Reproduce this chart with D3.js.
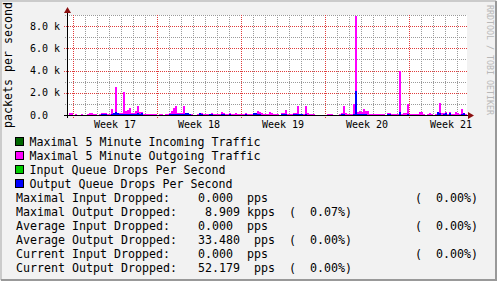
<!DOCTYPE html>
<html>
<head>
<meta charset="utf-8">
<script src="https://cdn.jsdelivr.net/npm/d3@7"></script>
<style>
  html, body { margin: 0; padding: 0; background: #f2f2f2; }
  svg { display: block; font-family: 'DejaVu Sans Mono', monospace; }
</style>
</head>
<body>
<script>
// 4 hour samples, first one starts 12 h before week 17
const START_HOUR = -12
const SAMPLE_HOURS = 4

const outgoingMax = [
  0, 180, 180, 0, 90, 0, 0, 90, 0, 0,
  90, 180, 220, 90, 90, 0, 90, 180, 180, 180,
  130, 130, 540, 180, 2550, 180, 180, 180, 2100, 370,
  450, 630, 180, 180, 320, 770, 270, 270, 90, 90,
  130, 130, 130, 90, 90, 0, 90, 90, 0, 90,
  90, 180, 360, 630, 810, 180, 180, 180, 810, 180,
  180, 130, 90, 0, 0, 90, 180, 180, 90, 90,
  90, 130, 180, 90, 90, 90, 90, 270, 180, 130,
  90, 180, 130, 90, 220, 130, 90, 90, 90, 180,
  130, 130, 90, 130, 180, 320, 270, 180, 90, 90,
  130, 270, 220, 90, 90, 90, 0, 180, 180, 450,
  90, 90, 90, 180, 180, 830, 130, 130, 130, 830,
  180, 90, 90, 90, 0, 0, 0, 0, 0, 0,
  90, 90, 90, 0, 0, 0, 90, 180, 830, 180,
  90, 90, 130, 1000, 8909, 270, 400, 270, 540, 400,
  320, 130, 130, 90, 90, 90, 90, 90, 90, 0,
  180, 180, 90, 90, 90, 90, 4000, 90, 180, 180,
  1000, 90, 90, 90, 90, 90, 270, 270, 90, 0,
  130, 180, 130, 0, 90, 270, 1100, 180, 180, 270,
  90, 270, 130, 130, 270, 180, 90, 550, 180, 90
]

const outputDrops = [
  0, 0, 0, 0, 0, 0, 0, 0, 0, 0,
  0, 0, 0, 0, 0, 0, 0, 130, 130, 130,
  0, 0, 90, 180, 270, 180, 130, 130, 90, 130,
  90, 130, 130, 90, 130, 180, 130, 180, 0, 0,
  0, 0, 0, 0, 0, 0, 0, 0, 0, 0,
  0, 90, 90, 130, 130, 130, 130, 90, 90, 180,
  180, 90, 0, 0, 0, 0, 180, 130, 0, 0,
  0, 90, 130, 0, 0, 0, 0, 130, 90, 0,
  0, 90, 0, 0, 0, 0, 0, 0, 0, 130,
  0, 0, 0, 180, 180, 130, 90, 0, 0, 0,
  0, 0, 0, 0, 0, 0, 0, 130, 130, 90,
  0, 0, 0, 130, 130, 90, 130, 90, 0, 90,
  0, 0, 0, 0, 0, 0, 0, 0, 0, 0,
  0, 0, 0, 0, 0, 0, 0, 130, 90, 0,
  0, 0, 0, 90, 2150, 130, 130, 90, 130, 90,
  0, 0, 0, 0, 0, 0, 0, 0, 0, 0,
  90, 90, 0, 0, 0, 0, 270, 0, 0, 0,
  90, 0, 0, 0, 0, 0, 0, 0, 0, 0,
  0, 0, 0, 0, 0, 270, 180, 0, 90, 180,
  0, 180, 0, 0, 0, 0, 0, 90, 180, 0
]

const weekLabels = ['Week 17', 'Week 18', 'Week 19', 'Week 20', 'Week 21']
const yTicks = [0, 2000, 4000, 6000, 8000]
const yTickLabels = ['0.0', '2.0 k', '4.0 k', '6.0 k', '8.0 k']

const legendLabels = [
  'Maximal 5 Minute Incoming Traffic',
  'Maximal 5 Minute Outgoing Traffic',
  'Input Queue Drops Per Second',
  'Output Queue Drops Per Second'
]
const legendColors = ['#006600', '#ff00ff', '#00cc00', '#0000ff']

const statLabels = [
  'Maximal Input Dropped:', 'Maximal Output Dropped:',
  'Average Input Dropped:', 'Average Output Dropped:',
  'Current Input Dropped:', 'Current Output Dropped:'
]
const statValues = ['0.000', '8.909', '0.000', '33.480', '0.000', '52.179']
const statUnits = ['pps', 'kpps', 'pps', 'pps', 'pps', 'pps']
const statPercents = ['0.00%', '0.07%', '0.00%', '0.00%', '0.00%', '0.00%']

const buildChart = () => {
  const W = 497, H = 281
  const PLOT = { LEFT: 67, RIGHT: 467, TOP: 15, BOTTOM: 115 }
  const CHAR = 7

  const svg = d3.select('body').append('svg')
    .attr('width', W)
    .attr('height', H)

  // background + 3d frame
  svg.append('rect').attr('width', W).attr('height', H).attr('fill', '#f2f2f2')
  svg.append('path').attr('d', `M1,${H - 1}V1H${W - 1}`)
    .attr('fill', 'none').attr('stroke', '#cbcbcb').attr('stroke-width', 2)
  svg.append('path').attr('d', `M1,${H - 1}H${W - 1}V1`)
    .attr('fill', 'none').attr('stroke', '#999999').attr('stroke-width', 2)

  const nSamples = outgoingMax.length
  const endHour = START_HOUR + nSamples * SAMPLE_HOURS

  const x = d3.scaleLinear()
    .domain([START_HOUR, endHour])
    .range([PLOT.LEFT, PLOT.RIGHT])
  const y = d3.scaleLinear()
    .domain([0, 9000])
    .range([PLOT.BOTTOM, PLOT.TOP])

  svg.append('rect')
    .attr('x', PLOT.LEFT).attr('y', PLOT.TOP)
    .attr('width', PLOT.RIGHT - PLOT.LEFT).attr('height', PLOT.BOTTOM - PLOT.TOP)
    .attr('fill', '#ffffff')

  const px = v => Math.round(v) + 0.5
  const grid = svg.append('g').attr('stroke-dasharray', '1,1').attr('stroke-width', 1)

  const days = d3.range(0, endHour, 24)
  grid.selectAll('line.vminor')
    .data(days.filter(d => d % 168 !== 0))
    .enter().append('line')
    .attr('x1', d => px(x(d))).attr('x2', d => px(x(d)))
    .attr('y1', PLOT.TOP).attr('y2', PLOT.BOTTOM + 2)
    .attr('stroke', '#9a9a9a')

  const hVals = d3.range(1000, 9001, 1000)
  grid.selectAll('line.hminor')
    .data(hVals.filter(d => d % 2000 !== 0))
    .enter().append('line')
    .attr('x1', PLOT.LEFT - 2).attr('x2', PLOT.RIGHT)
    .attr('y1', d => px(y(d))).attr('y2', d => px(y(d)))
    .attr('stroke', '#9a9a9a')

  grid.selectAll('line.vmajor')
    .data(days.filter(d => d % 168 === 0))
    .enter().append('line')
    .attr('x1', d => px(x(d))).attr('x2', d => px(x(d)))
    .attr('y1', PLOT.TOP).attr('y2', PLOT.BOTTOM + 3)
    .attr('stroke', '#e03c3c')

  grid.selectAll('line.hmajor')
    .data(yTicks.filter(d => d > 0))
    .enter().append('line')
    .attr('x1', PLOT.LEFT - 3).attr('x2', PLOT.RIGHT)
    .attr('y1', d => px(y(d))).attr('y2', d => px(y(d)))
    .attr('stroke', '#e03c3c')

  // areas
  const points = series => series.map((v, i) => [START_HOUR + i * SAMPLE_HOURS, v])
    .concat([[endHour, series[nSamples - 1]]])
  const area = d3.area()
    .curve(d3.curveStepAfter)
    .x(d => x(d[0]))
    .y0(y(0))
    .y1(d => y(d[1]))

  svg.append('path')
    .datum(points(outgoingMax))
    .attr('d', area)
    .attr('fill', legendColors[1])
    .attr('shape-rendering', 'crispEdges')
  svg.append('path')
    .datum(points(outputDrops))
    .attr('d', area)
    .attr('fill', legendColors[3])
    .attr('shape-rendering', 'crispEdges')

  // axes
  svg.append('line')
    .attr('x1', PLOT.LEFT - 3).attr('x2', PLOT.RIGHT + 1)
    .attr('y1', PLOT.BOTTOM + 0.5).attr('y2', PLOT.BOTTOM + 0.5)
    .attr('stroke', '#000')
  svg.append('line')
    .attr('x1', PLOT.LEFT + 0.5).attr('x2', PLOT.LEFT + 0.5)
    .attr('y1', PLOT.BOTTOM + 3).attr('y2', PLOT.TOP - 2)
    .attr('stroke', '#000')
  svg.append('path')
    .attr('d', `M${PLOT.RIGHT + 1},${PLOT.BOTTOM - 3}L${PLOT.RIGHT + 7},${PLOT.BOTTOM + 0.5}L${PLOT.RIGHT + 1},${PLOT.BOTTOM + 4}Z`)
    .attr('fill', '#8b1010')
  svg.append('path')
    .attr('d', `M${PLOT.LEFT - 3},${PLOT.TOP - 2}L${PLOT.LEFT + 0.5},${PLOT.TOP - 8}L${PLOT.LEFT + 4},${PLOT.TOP - 2}Z`)
    .attr('fill', '#8b1010')

  // tick labels
  svg.append('g')
    .selectAll('text')
    .data(weekLabels)
    .enter().append('text')
    .attr('x', (d, i) => x(84 + i * 168))
    .attr('y', PLOT.BOTTOM + 13)
    .attr('text-anchor', 'middle')
    .attr('font-size', 10)
    .text(d => d)

  svg.append('g')
    .selectAll('text')
    .data(yTicks)
    .enter().append('text')
    .attr('x', 30)
    .attr('y', d => y(d) + 3.5)
    .attr('font-size', 10)
    .text((d, i) => yTickLabels[i])

  svg.append('text')
    .attr('transform', `translate(12, 65) rotate(-90)`)
    .attr('text-anchor', 'middle')
    .attr('font-size', 11.63)
    .text('packets per second')

  svg.append('text')
    .attr('transform', `translate(487, 60) rotate(90)`)
    .attr('text-anchor', 'middle')
    .attr('font-size', 8.3)
    .attr('fill', '#b8b8b8')
    .text('RRDTOOL / TOBI OETIKER')

  // legend
  const legend = svg.append('g').attr('font-size', 11.63)
  legendLabels.forEach((label, i) => {
    const cy = 141.5 + i * 14
    legend.append('rect')
      .attr('x', 15.5).attr('y', cy - 4)
      .attr('width', 8).attr('height', 8)
      .attr('fill', legendColors[i])
      .attr('stroke', '#000')
    legend.append('text')
      .attr('x', 29.5).attr('y', cy + 4.2)
      .text(label)
  })

  const valueCols = [26, 27, 26, 26, 26, 26]
  const unitCols = [33, 33, 33, 34, 33, 34]
  const pctCols = [57, 39, 57, 39, 57, 39]
  statLabels.forEach((label, i) => {
    const base = 141.5 + (i + 4) * 14 + 4.2
    const row = legend.append('g').attr('transform', `translate(16, ${base})`)
    row.append('text').attr('x', 0).text(label)
    row.append('text').attr('x', valueCols[i] * CHAR).text(statValues[i])
    row.append('text').attr('x', unitCols[i] * CHAR).text(statUnits[i])
    row.append('text').attr('x', pctCols[i] * CHAR)
      .attr('xml:space', 'preserve').style('white-space', 'pre')
      .text(`(  ${statPercents[i]})`)
  })
}

buildChart()
</script>
</body>
</html>
